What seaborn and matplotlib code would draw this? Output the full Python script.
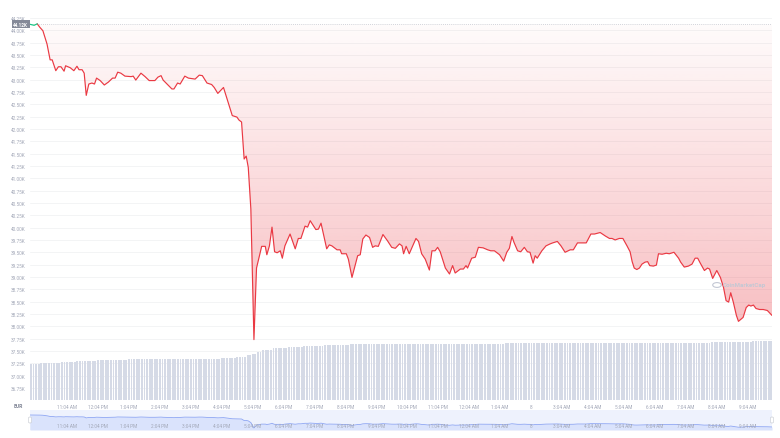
import numpy as np
import pandas as pd
import matplotlib
matplotlib.use("Agg")
import matplotlib.pyplot as plt
import matplotlib.dates as mdates
from matplotlib.colors import to_rgb
from matplotlib.patches import FancyBboxPatch, Circle
import seaborn as sns

# time axis: minutes after the first sample
start = pd.Timestamp("2022-01-07 09:53")
open_price = 44.12  # K EUR

minutes = [0, 8, 14, 19, 25, 33, 39, 43, 50, 55,
           60, 66, 69, 78, 85, 91, 95, 101, 105, 109,
           114, 120, 125, 129, 136, 144, 152, 160, 165, 170,
           176, 184, 196, 200, 205, 215, 223, 231, 242, 248,
           254, 258, 275, 279, 286, 291, 300, 307, 320, 328,
           334, 343, 352, 357, 364, 375, 392, 401, 405, 410,
           415, 419, 423, 428, 434, 439, 449, 456, 459, 464,
           469, 474, 479, 485, 489, 494, 504, 514, 520, 525,
           533, 538, 543, 554, 559, 564, 575, 580, 585, 595,
           601, 604, 613, 617, 624, 635, 640, 645, 651, 658,
           664, 669, 675, 684, 693, 701, 708, 716, 721, 724,
           729, 735, 748, 753, 759, 766, 774, 779, 785, 790,
           795, 805, 813, 819, 824, 834, 840, 845, 848, 856,
           863, 869, 878, 887, 893, 900, 910, 918, 924, 929,
           934, 938, 945, 951, 958, 964, 969, 975, 979, 983,
           992, 1000, 1008, 1013, 1022, 1029, 1037, 1047, 1053, 1061,
           1070, 1078, 1087, 1094, 1105, 1115, 1123, 1128, 1134, 1142,
           1149, 1157, 1163, 1167, 1171, 1176, 1181, 1186, 1192, 1197,
           1201, 1208, 1214, 1218, 1225, 1233, 1239, 1248, 1257, 1261,
           1268, 1276, 1283, 1289, 1294, 1299, 1307, 1313, 1317, 1323,
           1331, 1338, 1344, 1349, 1354, 1358, 1363, 1369, 1373, 1382,
           1388, 1393, 1397, 1402, 1407, 1414, 1421, 1429, 1438]

prices = [44.12, 44.10, 44.13, 44.06, 43.99, 43.72, 43.40, 43.40, 43.18, 43.26,
          43.26, 43.17, 43.28, 43.24, 43.18, 43.27, 43.20, 43.20, 43.13, 42.68,
          42.91, 42.93, 42.91, 43.03, 42.98, 42.89, 42.95, 43.03, 43.03, 43.15,
          43.13, 43.07, 43.06, 43.07, 42.99, 43.13, 43.06, 42.98, 42.98, 43.05,
          43.08, 42.99, 42.81, 42.81, 42.93, 42.91, 43.07, 43.03, 43.01, 43.09,
          43.08, 42.93, 42.90, 42.84, 42.72, 42.84, 42.27, 42.24, 42.18, 42.14,
          41.39, 41.45, 41.22, 40.38, 37.73, 39.18, 39.62, 39.62, 39.45, 39.63,
          40.01, 39.51, 39.49, 39.53, 39.38, 39.63, 39.87, 39.57, 39.78, 39.78,
          40.03, 40.01, 40.14, 39.96, 39.97, 40.09, 39.57, 39.65, 39.63, 39.55,
          39.55, 39.47, 39.47, 39.36, 38.99, 39.43, 39.45, 39.77, 39.85, 39.80,
          39.60, 39.63, 39.62, 39.86, 39.73, 39.60, 39.58, 39.67, 39.63, 39.47,
          39.62, 39.47, 39.78, 39.72, 39.47, 39.36, 39.14, 39.53, 39.53, 39.60,
          39.51, 39.18, 39.06, 39.23, 39.08, 39.16, 39.16, 39.23, 39.18, 39.38,
          39.40, 39.60, 39.59, 39.55, 39.53, 39.53, 39.45, 39.32, 39.50, 39.58,
          39.82, 39.70, 39.53, 39.51, 39.60, 39.51, 39.50, 39.28, 39.43, 39.38,
          39.53, 39.63, 39.67, 39.69, 39.72, 39.63, 39.50, 39.55, 39.55, 39.69,
          39.69, 39.69, 39.87, 39.87, 39.90, 39.83, 39.78, 39.78, 39.75, 39.78,
          39.78, 39.63, 39.51, 39.31, 39.18, 39.15, 39.18, 39.26, 39.30, 39.31,
          39.23, 39.22, 39.24, 39.47, 39.46, 39.48, 39.47, 39.50, 39.38, 39.30,
          39.20, 39.22, 39.26, 39.38, 39.38, 39.28, 39.13, 39.18, 39.16, 38.97,
          39.13, 38.99, 38.79, 38.52, 38.49, 38.68, 38.49, 38.22, 38.10, 38.18,
          38.38, 38.43, 38.41, 38.43, 38.36, 38.34, 38.34, 38.32, 38.22]

# volume (bn, 5-minute bars), given as level + number of bars at that level
vol_levels = [24.0, 24.4, 24.8, 25.6, 26.1, 26.7, 27.2, 27.4, 27.9, 28.9,
              30.1, 31.0, 32.3, 33.6, 34.7, 35.6, 36.1, 36.7, 37.4, 37.7,
              38.1, 38.4, 38.9, 39.4]
vol_counts = [4, 4, 4, 6, 8, 12, 24, 12, 6, 4,
              2, 2, 2, 4, 6, 6, 8, 10, 20, 40,
              40, 40, 16, 8]

y_ticks = [36.75, 37.00, 37.25, 37.50, 37.75, 38.00, 38.25, 38.50, 38.75,
           39.00, 39.25, 39.50, 39.75, 40.00, 40.25, 40.50, 40.75, 41.00,
           41.25, 41.50, 41.75, 42.00, 42.25, 42.50, 42.75, 43.00, 43.25,
           43.50, 43.75, 44.00, 44.25]
x_tick_labels = ["11:04 AM", "12:04 PM", "1:04 PM", "2:04 PM", "3:04 PM",
                 "4:04 PM", "5:04 PM", "6:04 PM", "7:04 PM", "8:04 PM",
                 "9:04 PM", "10:04 PM", "11:04 PM", "12:04 AM", "1:04 AM",
                 "8", "3:04 AM", "4:04 AM", "5:04 AM", "6:04 AM", "7:04 AM",
                 "8:04 AM", "9:04 AM"]

RED = "#ea3943"
GREEN = "#16c784"
GREY_TXT = "#a3a8b8"

df = pd.DataFrame({"time": start + pd.to_timedelta(minutes, unit="min"),
                   "price": prices})
vol = np.repeat(vol_levels, vol_counts)
vol_time = start + pd.to_timedelta(np.arange(len(vol)) * 5, unit="min")
tick_times = pd.date_range(start.replace(hour=11, minute=4),
                           periods=len(x_tick_labels), freq="h")
x0, x1 = start, start + pd.Timedelta(minutes=1438)

sns.set_theme(style="white")
plt.rcParams["font.family"] = ["Roboto", "DejaVu Sans"]

fig = plt.figure(figsize=(7.8, 4.39), dpi=100)
ax = fig.add_axes([30 / 780, 38 / 439, 742 / 780, 389 / 439])

# gradient fill between the line and the opening price
poly = ax.fill_between(df["time"], df["price"], open_price, color="none", lw=0)
n = 256
rgba = np.zeros((n, 1, 4))
rgba[..., :3] = to_rgb(RED)
rgba[..., 3] = np.linspace(0.34, 0.02, n)[:, None]
im = ax.imshow(rgba, aspect="auto", origin="lower", zorder=1,
               extent=[mdates.date2num(x0), mdates.date2num(x1),
                       min(prices), open_price])
im.set_clip_path(poly.get_paths()[0], transform=ax.transData)

sns.lineplot(data=df.iloc[2:], x="time", y="price", color=RED, lw=0.85,
             ax=ax, zorder=3)
sns.lineplot(data=df.iloc[:3], x="time", y="price", color=GREEN, lw=0.85,
             ax=ax, zorder=3)
ax.axhline(open_price, color="#c4c8d0", ls=(0, (1, 1.5)), lw=0.6, zorder=2)

ax.set_xlim(x0, x1)
ax.set_ylim(36.506, 44.39)
ax.set_yticks(y_ticks)
ax.set_yticklabels([f"{v:.2f}K" for v in y_ticks])
ax.set_xticks(tick_times)
ax.set_xticklabels(x_tick_labels)
ax.tick_params(axis="y", length=0, pad=3, labelsize=3.4, labelcolor=GREY_TXT)
ax.tick_params(axis="x", length=0, pad=3, labelsize=3.4, labelcolor=GREY_TXT)
ax.grid(axis="y", color="#f1f2f4", lw=0.6)
ax.set_xlabel("")
ax.set_ylabel("")
for s in ax.spines.values():
    s.set_visible(False)

# volume bars
ax2 = ax.twinx()
ax2.bar(vol_time, vol, width=5 / 1440 * 0.72, align="edge",
        color="#d5dae6", lw=0)
ax2.set_ylim(0, 260)
ax2.set_yticks([])
ax2.set_xlim(x0, x1)
for s in ax2.spines.values():
    s.set_visible(False)

# current price tag
ax.text(-0.0025, open_price, f"{open_price:.2f}K", transform=ax.get_yaxis_transform(),
        ha="right", va="center", fontsize=3.4, color="white", fontweight="bold",
        bbox=dict(boxstyle="square,pad=0.35", fc="#858a98", ec="none"), zorder=5)

fig.text(18 / 780, 1 - 407 / 439, "EUR", ha="center", va="center",
         fontsize=3.6, color="#7d8293", fontweight="bold")

# watermark
fig.text(723 / 780, 1 - 286 / 439, "CoinMarketCap", ha="left", va="center",
         fontsize=4.4, color="#c3c8d4", fontweight="bold", zorder=10)
fig.patches.append(Circle((717 / 780, 1 - 286 / 439), 0.0055,
                          transform=fig.transFigure, fc="none", ec="#c3c8d4",
                          lw=0.8, zorder=10))

# navigator
axn = fig.add_axes([30 / 780, 8 / 439, 742 / 780, 20 / 439])
axn.set_facecolor("#eef2fd")
axn.fill_between(df["time"], df["price"], 36.73, color="#dae3fc", lw=0)
axn.plot(df["time"], df["price"], color="#8ea6f3", lw=0.6)
axn.set_xlim(x0, x1)
axn.set_ylim(36.73, 46.58)
axn.set_yticks([])
axn.set_xticks([])
for t, lab in zip(tick_times, x_tick_labels):
    axn.text(t, 0.2, lab, transform=axn.get_xaxis_transform(), ha="center",
             va="center", fontsize=3.4, color=GREY_TXT, zorder=5)
for s in axn.spines.values():
    s.set_visible(False)
for hx in (30, 772):
    fig.patches.append(FancyBboxPatch(((hx - 1.5) / 780, 1 - 424 / 439),
                                      3 / 780, 6 / 439,
                                      boxstyle="round,pad=0,rounding_size=0.002",
                                      transform=fig.transFigure, fc="white",
                                      ec="#c4c8d0", lw=0.4, zorder=5))

fig.savefig("out.png", dpi=100)
